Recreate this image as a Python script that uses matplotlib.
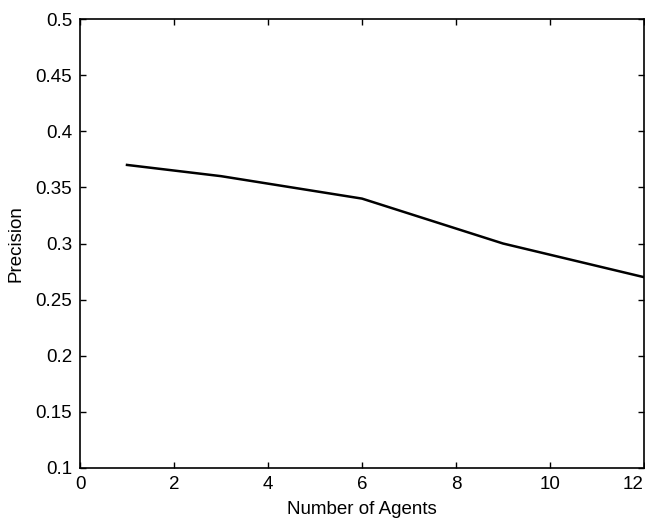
import matplotlib
matplotlib.use("Agg")
import matplotlib.pyplot as plt

agents = [1, 3, 6, 9, 12]
precision = [0.37, 0.36, 0.34, 0.30, 0.27]
xticks = [0, 2, 4, 6, 8, 10, 12]
yticks = [0.1, 0.15, 0.2, 0.25, 0.3, 0.35, 0.4, 0.45, 0.5]
ytick_labels = ["0.1", "0.15", "0.2", "0.25", "0.3", "0.35", "0.4", "0.45", "0.5"]

plt.rcParams['font.family'] = ['Liberation Sans', 'DejaVu Sans']

fig = plt.figure(figsize=(6.45, 5.2), dpi=100)
ax = fig.add_axes([80/645, 1 - 468/520, 564/645, 449/520])
ax.plot(agents, precision, color='black', linewidth=1.8)
ax.set_xlim(0, 12)
ax.set_ylim(0.1, 0.5)
ax.set_xticks(xticks)
ax.set_xticklabels([str(t) for t in xticks])
ax.set_yticks(yticks)
ax.set_yticklabels(ytick_labels)
ax.tick_params(direction='in', top=True, right=True, length=4, width=1, labelsize=13.5)
ax.tick_params(axis='y', pad=5.5)
ax.tick_params(axis='x', pad=5.5)
ax.get_xticklabels()[-1].set_horizontalalignment('right')
ax.get_xticklabels()[-1].set_x(12)
for s in ax.spines.values():
    s.set_linewidth(1.2)
ax.set_xlabel("Number of Agents", fontsize=13.5, labelpad=6)
ax.set_ylabel("Precision", fontsize=13.5, labelpad=8)
fig.savefig("out.png", dpi=100)
